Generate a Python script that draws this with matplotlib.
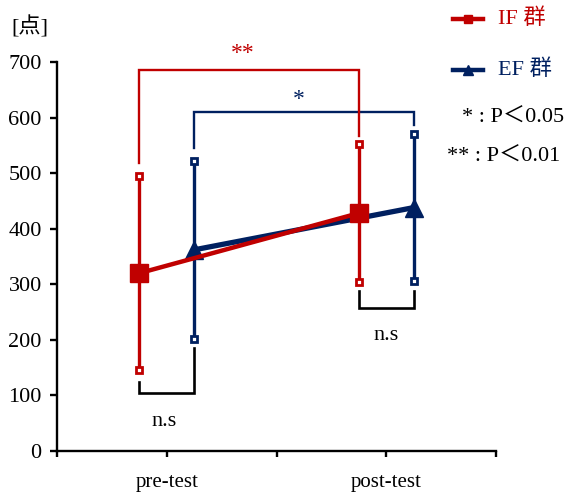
import matplotlib
matplotlib.use("Agg")
import matplotlib.pyplot as plt

plt.rcParams['font.family'] = ['Liberation Serif', 'Noto Sans CJK JP']

# Data
phases = ["pre-test", "post-test"]
phase_pos = [1, 3]
if_mean = [320, 428]
if_sd = [175, 124]
ef_mean = [362, 438]
ef_sd = [160, 132]
yticks = [0, 100, 200, 300, 400, 500, 600, 700]

RED = "#C00000"
BLUE = "#002060"
offset = 0.25

fig = plt.figure(figsize=(5.68, 4.93), dpi=100)
ax = fig.add_axes([57 / 568, 42 / 493, 439 / 568, 389 / 493])

x_if = [p - offset for p in phase_pos]
x_ef = [p + offset for p in phase_pos]


def draw_series(x, mean, sd, color, marker, ms, lw):
    for xi, m, s in zip(x, mean, sd):
        ax.plot([xi, xi], [m - s, m + s], color=color, lw=2.4, solid_capstyle='butt', zorder=3)
        ax.plot([xi, xi], [m - s, m + s], ls='none', marker='s', ms=5,
                mfc='white', mec=color, mew=2.0, zorder=4)
    ax.plot(x, mean, color=color, lw=lw, marker=marker, ms=ms,
            mfc=color, mec=color, zorder=5)


draw_series(x_ef, ef_mean, ef_sd, BLUE, '^', 13, 3.8)
draw_series(x_if, if_mean, if_sd, RED, 's', 13, 3.2)

# Significance brackets
def bracket(x0, x1, y, y_left, y_right, color, lw=1.7):
    ax.plot([x0, x0, x1, x1], [y_left, y, y, y_right], color=color, lw=lw,
            clip_on=False, zorder=2, solid_joinstyle='miter')

bracket(x_ef[0], x_ef[1], 610, 545, 587, BLUE)
bracket(x_if[0], x_if[1], 685, 518, 567, RED)
ax.text(1.69, 706, "**", color=RED, fontsize=17, ha='center', va='baseline')
ax.text(2.2, 623, "*", color=BLUE, fontsize=17, ha='center', va='baseline')

bracket(x_if[0], x_ef[0], 104, 124, 185, 'black', lw=1.9)
bracket(x_if[1], x_ef[1], 257, 288, 288, 'black', lw=1.9)
ax.text(0.98, 53, "n.s", fontsize=16, ha='center', va='center')
ax.text(3.0, 207, "n.s", fontsize=16, ha='center', va='center')

# Legend and notes
ax.plot([3.61, 3.88], [778, 778], color=RED, lw=3.2, clip_on=False)
ax.plot([3.745], [778], color=RED, marker='s', ms=6, clip_on=False)
ax.text(4.02, 778, "IF 群", color=RED, fontsize=16, va='center', ha='left')
ax.plot([3.61, 3.88], [686, 686], color=BLUE, lw=3.2, clip_on=False)
ax.plot([3.745], [686], color=BLUE, marker='^', ms=7, clip_on=False)
ax.text(4.02, 686, "EF 群", color=BLUE, fontsize=16, va='center', ha='left')
ax.text(3.69, 598, "* : P＜0.05", fontsize=16, va='center', ha='left')
ax.text(3.55, 529, "** : P＜0.01", fontsize=16, va='center', ha='left')

fig.text(11 / 568, 1 - 27 / 493, "[点]", fontsize=16, va='center', ha='left')

# Axes styling
ax.set_xlim(0, 4)
ax.set_ylim(0, 700)
ax.set_xticks([0, 1, 2, 3, 4])
ax.set_xticklabels(["", phases[0], "", phases[1], ""], fontsize=15)
ax.set_yticks(yticks)
ax.set_yticklabels([str(v) for v in yticks], fontsize=16)
for side in ['top', 'right']:
    ax.spines[side].set_visible(False)
for side in ['left', 'bottom']:
    ax.spines[side].set_linewidth(1.7)
ax.tick_params(axis='y', direction='out', length=5, width=1.7, pad=6)
ax.tick_params(axis='x', direction='out', length=4, width=1.7, pad=12)

fig.savefig("out.png", dpi=100)
